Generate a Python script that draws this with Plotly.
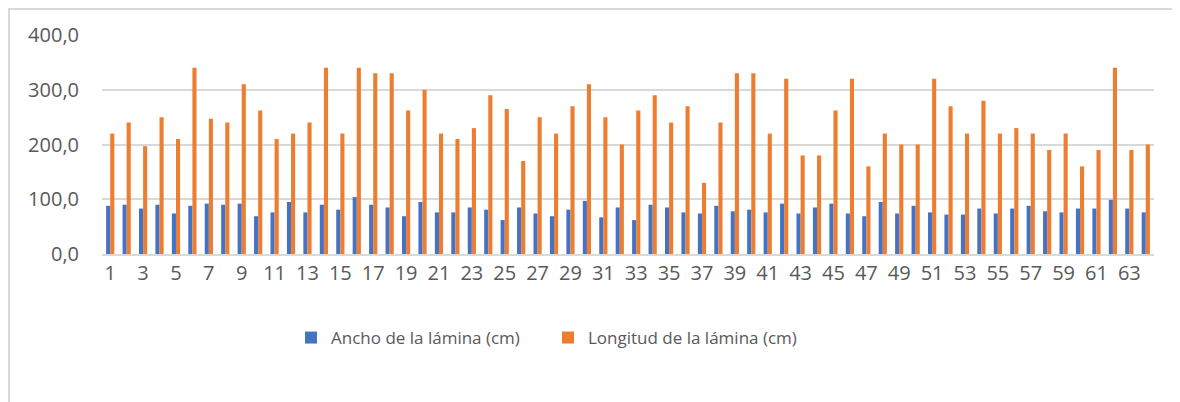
import plotly.graph_objects as go

# plant number (1..64)
plantas = list(range(1, 65))

ancho = [88, 90, 83, 90, 74, 88, 92, 90, 92, 69, 76, 95, 76, 90, 81, 104,
         90, 85, 69, 95, 76, 76, 85, 81, 62, 85, 74, 69, 81, 97, 67, 85,
         62, 90, 85, 76, 74, 88, 78, 81, 76, 92, 74, 85, 92, 74, 69, 95,
         74, 88, 76, 72, 72, 83, 74, 83, 88, 78, 76, 83, 83, 99, 83, 76]

longitud = [220, 240, 197, 250, 210, 340, 247, 240, 310, 262, 210, 220, 240, 340, 220, 340,
            330, 330, 262, 300, 220, 210, 230, 290, 265, 170, 250, 220, 270, 310, 250, 200,
            262, 290, 240, 270, 130, 240, 330, 330, 220, 320, 180, 180, 262, 320, 160, 220,
            200, 200, 320, 270, 220, 280, 220, 230, 220, 190, 220, 160, 190, 340, 190, 200]

nombres = ["Ancho de la lámina (cm)", "Longitud de la lámina (cm)"]
colores = ["#4472C4", "#ED7D31"]

fig = go.Figure()
for nombre, valores, color in zip(nombres, [ancho, longitud], colores):
    fig.add_trace(go.Bar(x=plantas, y=valores, name=nombre, marker_color=color,
                         marker_line_width=0))

# page body adds an 8px offset, so the figure is a bit smaller than the window
W, H = 1172, 394
ml, mr, mt, mb = 94, 26, 27, 148
pw, ph = W - ml - mr, H - mt - mb

fig.update_layout(
    width=W, height=H,
    margin=dict(l=ml, r=mr, t=mt, b=mb),
    paper_bgcolor="white", plot_bgcolor="white",
    font=dict(family="Open Sans", size=20, color="#595959"),
    separators=",.",
    barmode="group", bargap=0.5, bargroupgap=0,
    showlegend=True,
    legend=dict(orientation="h", x=(283 - ml) / pw, xanchor="left",
                y=-84 / ph, yanchor="middle",
                font=dict(size=17, color="#595959"),
                itemwidth=30, entrywidth=212, traceorder="normal"),
    xaxis=dict(range=[0.5, 64.5], tick0=1, dtick=2, showgrid=False,
               showline=True, linecolor="#d9d9d9", linewidth=2,
               ticks="", ticklabelstandoff=0, zeroline=False),
    yaxis=dict(range=[0, 400], dtick=100, tickformat=".1f",
               showgrid=True, gridcolor="#d9d9d9", gridwidth=2,
               zeroline=False, ticks="", ticklabelstandoff=22),
)

# chart frame (only its top and left edges fall inside the picture)
fig.add_shape(type="rect", xref="paper", yref="paper",
              x0=(1 - ml) / pw, x1=(W + 10 - ml) / pw,
              y0=-(mb + 10) / ph, y1=(ph + mt - 1) / ph,
              line=dict(color="#d9d9d9", width=2), layer="below")

fig.write_html("out.html")
